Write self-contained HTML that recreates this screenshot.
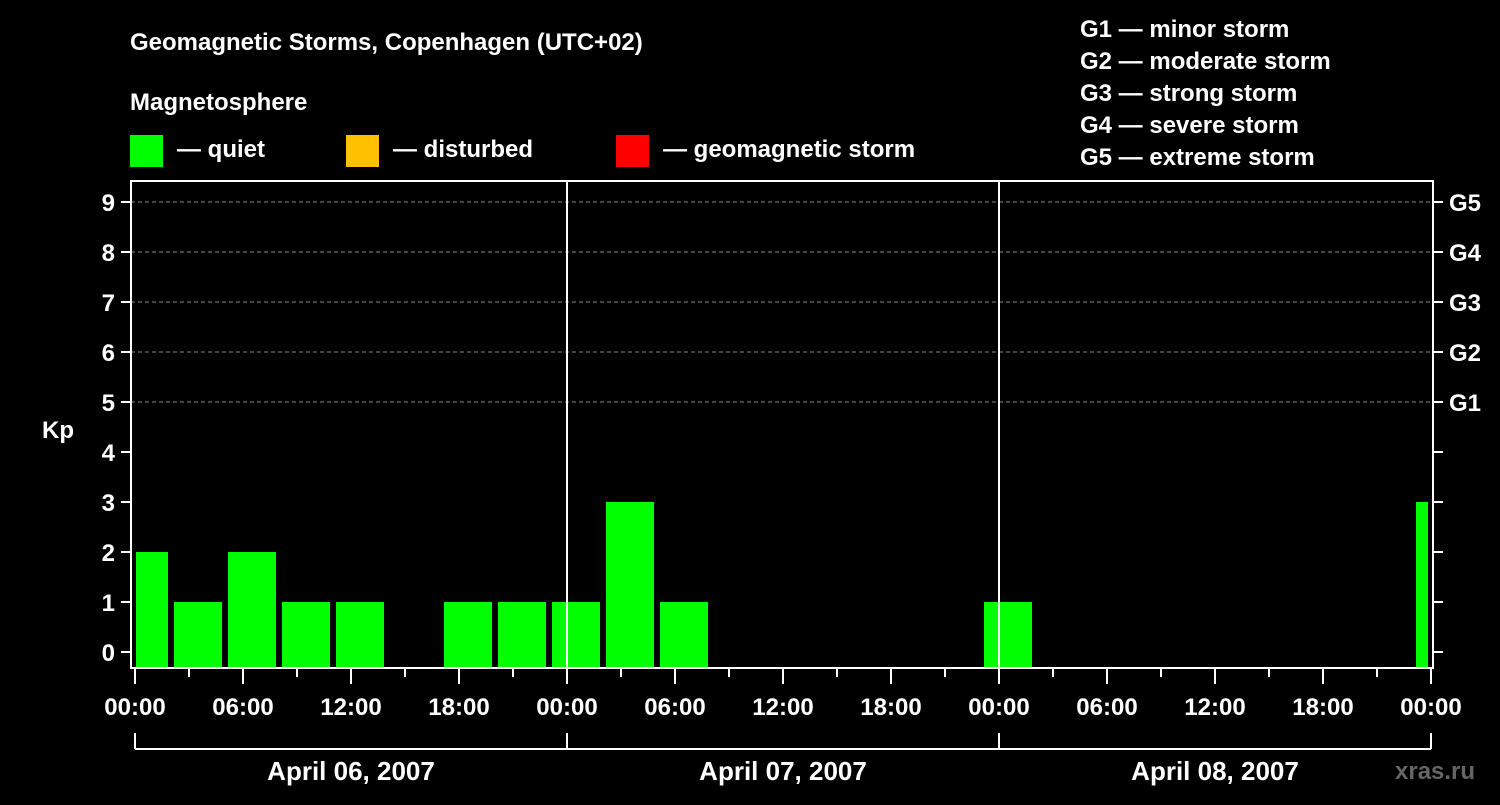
<!DOCTYPE html>
<html><head><meta charset="utf-8"><style>
body{margin:0;background:#000;width:1500px;height:800px;overflow:hidden}
svg text{font-family:"Liberation Sans",Arial,sans-serif;font-weight:bold;fill:#fff}
</style></head><body>
<svg width="1500" height="800" id="chart">
<text x="130" y="50" font-size="24">Geomagnetic Storms, Copenhagen (UTC+02)</text>
<text x="130" y="110" font-size="24">Magnetosphere</text>
<g>
<rect x="130" y="135" width="33" height="32" fill="#00ff00"/>
<text x="177" y="157" font-size="24">— quiet</text>
<rect x="346" y="135" width="33" height="32" fill="#ffc000"/>
<text x="393" y="157" font-size="24">— disturbed</text>
<rect x="616" y="135" width="33" height="32" fill="#ff0000"/>
<text x="663" y="157" font-size="24">— geomagnetic storm</text>
</g>
<g font-size="24">
<text x="1080" y="37">G1 — minor storm</text>
<text x="1080" y="69">G2 — moderate storm</text>
<text x="1080" y="101">G3 — strong storm</text>
<text x="1080" y="133">G4 — severe storm</text>
<text x="1080" y="165">G5 — extreme storm</text>
</g>
<text x="42" y="438" font-size="24">Kp</text>
<text x="1395" y="779" font-size="24" style="fill:#666">xras.ru</text>
<g id="plot"></g>
</svg>
<script>
const kpValues=[2,1,2,1,1,0,1,1,1,3,1,0,0,0,0,0,1,0,0,0,0,0,0,0,3];
const barStartHours=[-1,2,5,8,11,14,17,20,23,26,29,32,35,38,41,44,47,50,53,56,59,62,65,68,71];
const yTicks=[0,1,2,3,4,5,6,7,8,9];
const gLabels=["G1","G2","G3","G4","G5"];
const gLevels=[5,6,7,8,9];
const xTickLabels=["00:00","06:00","12:00","18:00","00:00","06:00","12:00","18:00","00:00","06:00","12:00","18:00","00:00"];
const dayLabels=["April 06, 2007","April 07, 2007","April 08, 2007"];
const NS="http://www.w3.org/2000/svg";
const g=document.getElementById('plot');
const X=h=>135+18*h, Y=v=>652-50*v;
const L=131,R=1433,T=181,B=668;
function mk(t,a,p){const e=document.createElementNS(NS,t);for(const k in a)e.setAttribute(k,a[k]);(p||g).appendChild(e);return e;}
// grid
gLevels.forEach(v=>{const e=mk('line',{x1:L,x2:R,y1:Y(v),y2:Y(v),stroke:'#888','stroke-dasharray':'4,3','stroke-width':1});

});
// bars
kpValues.forEach((v,i)=>{if(v<=0)return;let x1=Math.max(X(barStartHours[i])+3,X(0)+1);let x2=Math.min(X(barStartHours[i]+3)-3,X(72)-3);
const e=mk('rect',{x:x1,y:Y(v),width:x2-x1,height:B-Y(v),fill:'#00ff00'});

});
// day separators
[1,2].forEach(d=>{const e=mk('line',{x1:X(24*d),x2:X(24*d),y1:T,y2:B,stroke:'#fff','stroke-width':2});

});
// frame
const f=mk('rect',{x:L,y:T,width:R-L,height:B-T,fill:'none',stroke:'#fff','stroke-width':2});


// y ticks
yTicks.forEach(v=>{mk('line',{x1:L-10,x2:L,y1:Y(v),y2:Y(v),stroke:'#fff','stroke-width':2});
mk('line',{x1:R,x2:R+10,y1:Y(v),y2:Y(v),stroke:'#fff','stroke-width':2});
const t=mk('text',{x:115,y:Y(v)+9,'font-size':24,'text-anchor':'end'});t.textContent=v;

});
gLabels.forEach((s,i)=>{const t=mk('text',{x:1449,y:Y(gLevels[i])+9,'font-size':24});t.textContent=s;

});
// x ticks
for(let h=0;h<=72;h+=3){const major=h%6===0;mk('line',{x1:X(h),x2:X(h),y1:B,y2:B+(major?16:9),stroke:'#fff','stroke-width':2});}
xTickLabels.forEach((s,i)=>{const t=mk('text',{x:X(6*i),y:715,'font-size':24,'text-anchor':'middle'});t.textContent=s;

});
// day brackets
mk('line',{x1:X(0),x2:X(72),y1:749,y2:749,stroke:'#fff','stroke-width':2});
[0,1,2,3].forEach(d=>mk('line',{x1:X(24*d),x2:X(24*d),y1:733,y2:749,stroke:'#fff','stroke-width':2}));
dayLabels.forEach((s,i)=>{const t=mk('text',{x:X(24*i+12),y:780,'font-size':26,'text-anchor':'middle'});t.textContent=s;

});
</script>
</body></html>
